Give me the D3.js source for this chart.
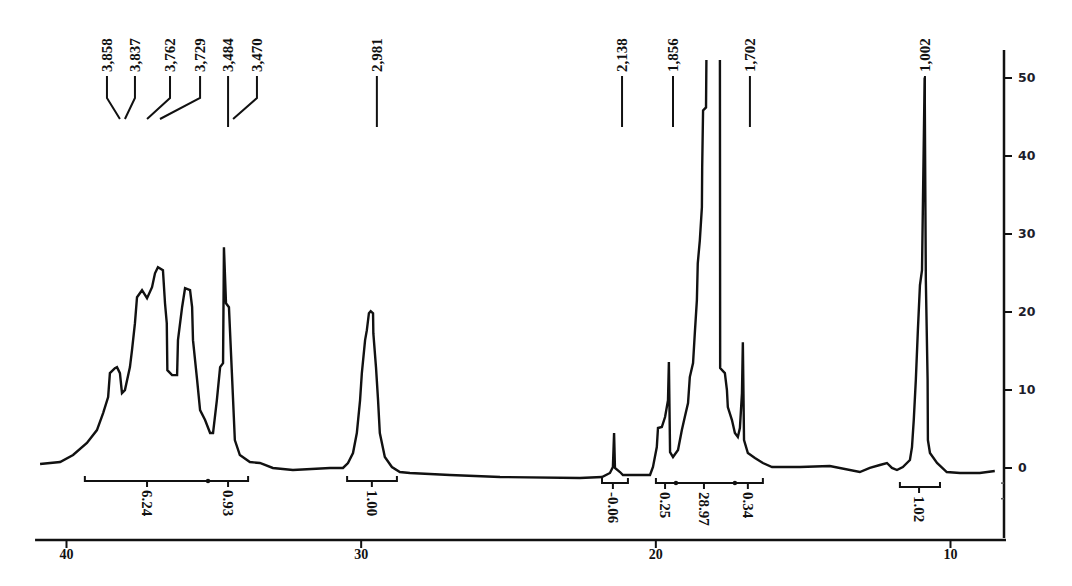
<!DOCTYPE html>
<html>
<head>
<meta charset="utf-8">
<script src="https://cdn.jsdelivr.net/npm/d3@7"></script>
<style>
  body { margin: 0; background: #fff; }
  svg { display: block; }
</style>
</head>
<body>
<svg width="1072" height="586"></svg>
<script>
// chemical shift axis (axis units as printed) and intensity
const shiftValues = [40.88, 40.20, 39.76, 39.29, 38.95, 38.74, 38.57, 38.51, 38.34, 38.27,
  38.17, 38.10, 38.00, 37.83, 37.76, 37.66, 37.59, 37.42, 37.25, 37.08,
  36.98, 36.88, 36.71, 36.64, 36.58, 36.56, 36.40, 36.23, 36.20, 36.06,
  35.96, 35.79, 35.72, 35.69, 35.55, 35.45, 35.28, 35.11, 35.01, 34.88,
  34.77, 34.67, 34.64, 34.57, 34.47, 34.37, 34.27, 34.10, 33.76, 33.42,
  32.98, 32.30, 31.04, 30.60, 30.43, 30.26, 30.13, 30.02, 29.96, 29.85,
  29.79, 29.72, 29.66, 29.58, 29.57, 29.48, 29.41, 29.35, 29.18, 28.94,
  28.67, 28.33, 26.97, 25.27, 22.56, 21.81, 21.54, 21.44, 21.40, 21.37,
  21.20, 21.10, 20.18, 20.08, 19.95, 19.91, 19.78, 19.67, 19.61, 19.57,
  19.54, 19.50, 19.40, 19.23, 19.10, 19.00, 18.89, 18.83, 18.72, 18.66,
  18.59, 18.56, 18.49, 18.42, 18.41, 18.38, 18.28, 18.25, 18.05, 17.81,
  17.80, 17.64, 17.57, 17.54, 17.40, 17.30, 17.20, 17.13, 17.06, 17.03,
  16.99, 16.86, 16.62, 16.35, 16.04, 15.09, 14.08, 13.06, 12.72, 12.38,
  12.14, 11.97, 11.80, 11.60, 11.36, 11.29, 11.23, 11.16, 11.09, 11.02,
  10.95, 10.86, 10.82, 10.76, 10.75, 10.68, 10.44, 10.11, 9.66, 8.99,
  8.48];

const intensityValues = [0.45, 0.70, 1.60, 3.14, 4.80, 6.98, 9.03, 12.10, 12.74, 12.87,
  12.10, 9.54, 9.92, 12.87, 15.04, 18.50, 21.83, 22.73, 21.70, 23.11,
  24.90, 25.67, 25.29, 21.06, 18.50, 12.48, 11.84, 11.84, 16.33, 20.55,
  22.98, 22.73, 20.55, 16.33, 11.20, 7.36, 6.08, 4.42, 4.42, 8.64,
  12.87, 13.38, 28.23, 21.06, 20.55, 12.10, 3.52, 1.60, 0.70, 0.58,
  -0.06, -0.32, -0.06, -0.06, 0.58, 1.86, 4.42, 8.64, 12.10, 16.33,
  17.61, 19.78, 20.04, 19.78, 17.22, 12.87, 8.64, 4.42, 1.34, 0.06,
  -0.58, -0.70, -0.96, -1.22, -1.34, -1.22, -0.70, 0.06, 4.42, -0.06,
  -0.58, -0.96, -0.96, 0.06, 2.62, 5.06, 5.19, 6.47, 7.75, 8.64,
  13.51, 1.98, 1.34, 2.24, 4.80, 6.47, 8.26, 11.59, 13.38, 17.22,
  21.45, 26.18, 29.13, 33.35, 38.48, 45.77, 46.16, 60, 60, 60,
  12.74, 12.10, 9.92, 7.75, 6.08, 4.42, 3.91, 5.06, 9.54, 16.07,
  3.52, 1.86, 1.22, 0.58, 0.06, 0.06, 0.19, -0.58, -0.06, 0.32,
  0.58, -0.06, -0.32, 0.06, 0.96, 2.62, 6.08, 11.20, 17.61, 23.37,
  25.29, 50.0, 24.0, 11.2, 3.52, 1.86, 0.58, -0.58, -0.70, -0.70,
  -0.45];

// peak picking labels: text, where the label sits, where its leader points
const peakLabels = ["3,858", "3,837", "3,762", "3,729", "3,484", "3,470", "2,981", "2,138", "1,856", "1,702", "1,002"];
const peakLabelShift = [38.61, 37.66, 36.47, 35.45, 34.50, 33.52, 29.45, 21.13, 19.40, 16.79, 10.85];
const peakTargetShift = [38.17, 38.00, 37.25, 36.81, 34.50, 34.33, 29.45, 21.13, 19.40, 16.79, 10.85];

// integrals
const integralLabels = ["6.24", "0.93", "1.00", "-0.06", "0.25", "28.97", "0.34", "1.02"];
const integralShift = [37.25, 34.50, 29.62, 21.44, 19.67, 18.35, 16.86, 11.05];
const integralRanges = [[39.36, 33.82], [30.46, 28.77], [21.81, 20.93], [19.98, 16.35], [11.70, 10.34]];
const integralDividers = [35.18, 19.30, 17.30];

const xTicks = [40, 30, 20, 10];
const yTicks = [0, 10, 20, 30, 40, 50];
const yMinorTicks = [-2, -4];

const svg = d3.select('svg');

const x = d3.scaleLinear().domain([40, 10]).range([66, 950]);
const y = d3.scaleLinear().domain([0, 50]).range([467.5, 77.5]);

const serif = '"Liberation Serif", "Times New Roman", serif';

// clip so the tall peak runs off the top like in the scan
svg.append('defs').append('clipPath').attr('id', 'plotClip')
    .append('rect').attr('x', 30).attr('y', 60).attr('width', 970).attr('height', 480);

const spectrum = d3.zip(shiftValues, intensityValues);
const line = d3.line().x(d => x(d[0])).y(d => y(d[1]));

svg.append('path')
    .datum(spectrum)
    .attr('clip-path', 'url(#plotClip)')
    .attr('d', line)
    .attr('fill', 'none')
    .attr('stroke', '#111')
    .attr('stroke-width', 2.4)
    .attr('stroke-linejoin', 'miter');

// bottom axis
const xAxisY = 540;
const xAxis = svg.append('g')
    .attr('transform', `translate(0,${xAxisY})`)
    .call(d3.axisBottom(x).tickValues(xTicks).tickSize(8).tickPadding(1).tickFormat(d3.format('d')));
xAxis.select('.domain').remove();
xAxis.selectAll('line').attr('stroke', '#111').attr('stroke-width', 2);
xAxis.selectAll('text')
    .style('font-family', serif).style('font-weight', 'bold').style('font-size', '14px').attr('fill', '#111');
svg.append('line')
    .attr('x1', x(41.05)).attr('x2', x(8.10))
    .attr('y1', xAxisY).attr('y2', xAxisY)
    .attr('stroke', '#111').attr('stroke-width', 2.5);

// right intensity axis
const yAxisX = 1004;
const yAxis = svg.append('g')
    .attr('transform', `translate(${yAxisX},0)`)
    .call(d3.axisRight(y).tickValues(yTicks).tickSize(8).tickPadding(6));
yAxis.select('.domain').remove();
yAxis.selectAll('line').attr('stroke', '#111').attr('stroke-width', 2);
yAxis.selectAll('text')
    .style('font-family', '"DejaVu Sans", sans-serif').style('font-weight', 'bold')
    .style('font-size', '12.5px').attr('fill', '#1d1d2b');
svg.append('line')
    .attr('x1', yAxisX).attr('x2', yAxisX)
    .attr('y1', 50).attr('y2', xAxisY - 2)
    .attr('stroke', '#111').attr('stroke-width', 2.5);
svg.selectAll('.minor')
    .data(yMinorTicks)
    .join('line')
    .attr('x1', yAxisX - 3).attr('x2', yAxisX)
    .attr('y1', d => y(d)).attr('y2', d => y(d))
    .attr('stroke', '#555').attr('stroke-width', 1.5);

// peak labels with leader lines
const labelBase = 72, leaderTop = 76, elbowY = 98, leaderEnd = 119, straightEnd = 127;
peakLabels.forEach((txt, i) => {
    const lx = x(peakLabelShift[i]);
    const tx = x(peakTargetShift[i]);
    svg.append('text')
        .attr('transform', `translate(${lx},${labelBase}) rotate(-90)`)
        .attr('dominant-baseline', 'central')
        .style('font-family', serif).style('font-weight', 'bold').style('font-size', '15px')
        .attr('fill', '#111')
        .text(txt);
    const pts = Math.abs(lx - tx) < 0.5
        ? [[lx, leaderTop], [lx, straightEnd]]
        : [[lx, leaderTop], [lx, elbowY], [tx, leaderEnd]];
    svg.append('path')
        .attr('d', d3.line()(pts))
        .attr('fill', 'none').attr('stroke', '#111').attr('stroke-width', 2);
});

// integral brackets
const bracketY = [481, 481, 483, 483, 487];
integralRanges.forEach((r, k) => {
    const by = bracketY[k];
    const pts = [[x(r[0]), by - 5], [x(r[0]), by], [x(r[1]), by], [x(r[1]), by - 5]];
    svg.append('path')
        .attr('d', d3.line()(pts))
        .attr('fill', 'none').attr('stroke', '#111').attr('stroke-width', 2);
});
const bracketYFor = s => {
    const k = integralRanges.findIndex(r => s <= r[0] && s >= r[1]);
    return bracketY[Math.max(k, 0)];
};
svg.selectAll('.divider')
    .data(integralDividers)
    .join('circle')
    .attr('cx', d => x(d)).attr('cy', d => bracketYFor(d))
    .attr('r', 2.2).attr('fill', '#111');

integralLabels.forEach((txt, i) => {
    const sx = x(integralShift[i]);
    const by = bracketYFor(integralShift[i]);
    svg.append('line')
        .attr('x1', sx).attr('x2', sx)
        .attr('y1', by).attr('y2', by + 6)
        .attr('stroke', '#111').attr('stroke-width', 2);
    svg.append('text')
        .attr('transform', `translate(${sx},${by + 9}) rotate(90)`)
        .attr('dominant-baseline', 'central')
        .style('font-family', serif).style('font-weight', 'bold').style('font-size', '15px')
        .attr('fill', '#111')
        .text(txt);
});
</script>
</body>
</html>
